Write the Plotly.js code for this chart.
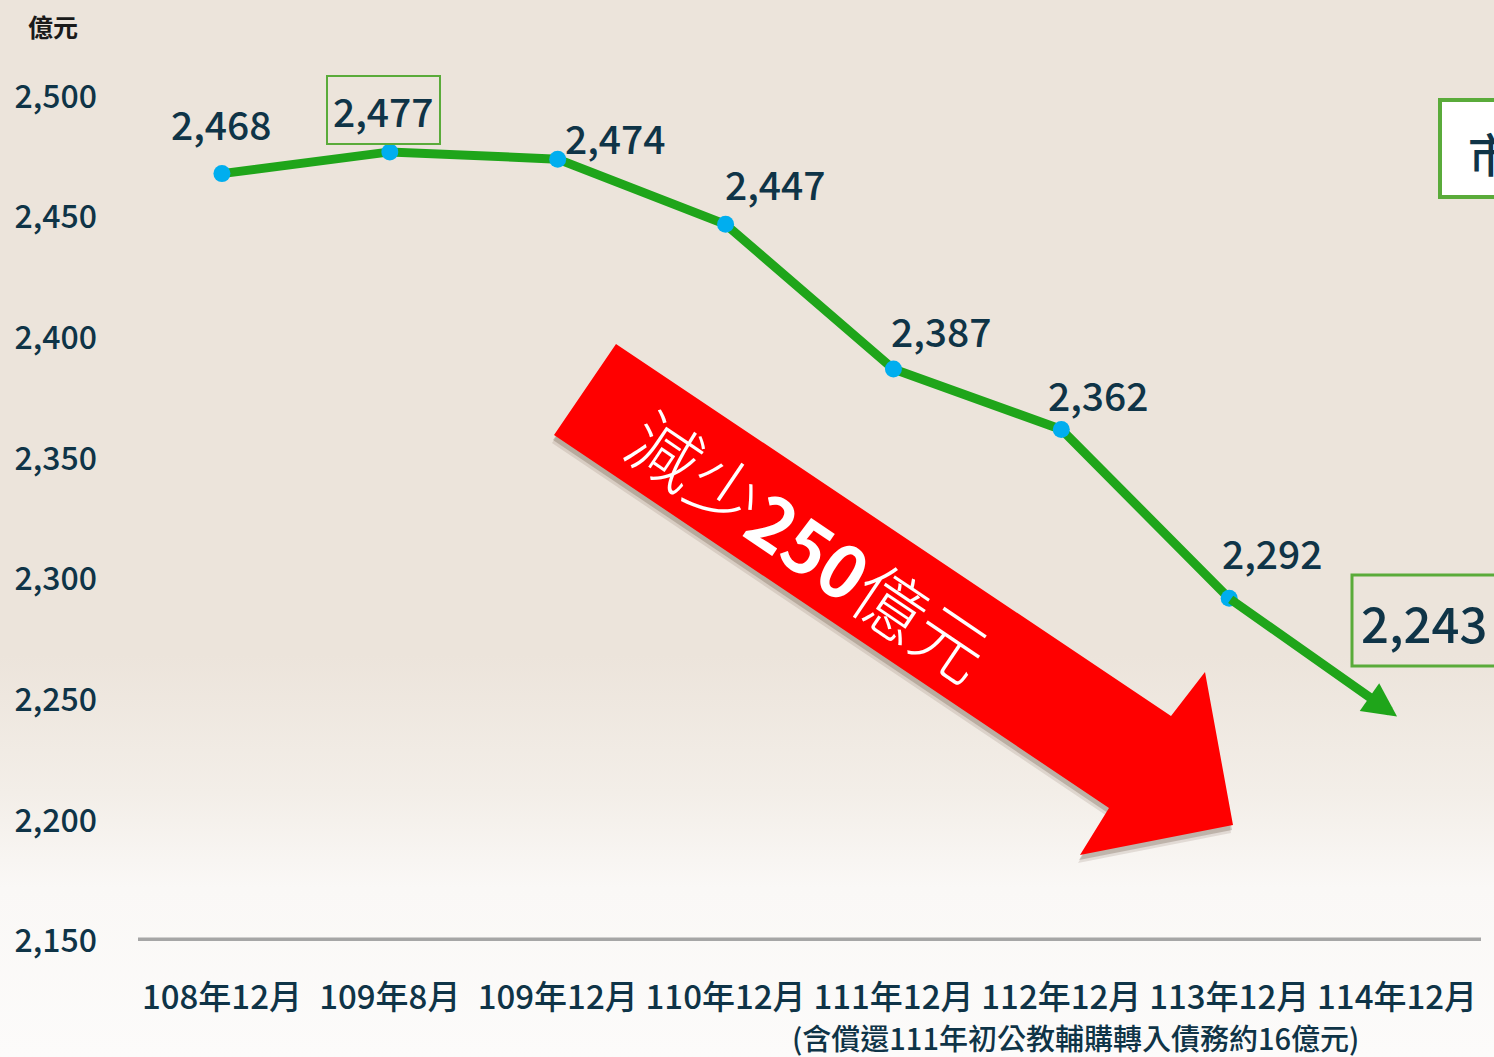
<!DOCTYPE html>
<html>
<head>
<meta charset="utf-8">
<script src="https://cdn.plot.ly/plotly-3.0.1.min.js"></script>
<style>
  html, body { margin: 0; padding: 0; }
  body {
    width: 1494px; height: 1057px; overflow: hidden;
    background: linear-gradient(to bottom, #ece4db 0%, #ece4db 62%, #f3eee8 75%, #faf8f6 84%, #fcfbfa 100%);
  }
  #chart { width: 1494px; height: 1057px; }
</style>
</head>
<body>
<div id="chart"></div>
<script>
// ---- data ----
const categories = ['108年12月', '109年8月', '109年12月', '110年12月', '111年12月', '112年12月', '113年12月', '114年12月'];
const values = [2468, 2477, 2474, 2447, 2387, 2362, 2292, 2243];
const valueLabels = ['2,468', '2,477', '2,474', '2,447', '2,387', '2,362', '2,292', '2,243'];
const yTicks = [2150, 2200, 2250, 2300, 2350, 2400, 2450, 2500];
const unitLabel = '億元';
const noteText = '(含償還111年初公教輔購轉入債務約16億元)';
const arrowText = '減少<b>250</b>億元';

// ---- layout helpers (pixel -> paper) ----
const W = 1494, H = 1057;
const M = { l: 138, r: 13, t: 24, b: 116 };
const PW = W - M.l - M.r, PH = H - M.t - M.b;
const px = x => (x - M.l) / PW;
const py = y => (H - M.b - y) / PH;

const navy = '#0f3447';
const green = '#1fa51a';
const boxGreen = '#5aab3a';
const font = '"Noto Sans CJK TC", "Noto Sans", sans-serif';

const idx = categories.map((_, i) => i);
const nLine = values.length - 1;

const line = {
  x: idx.slice(0, nLine),
  y: values.slice(0, nLine),
  type: 'scatter',
  mode: 'lines+markers',
  line: { color: green, width: 9 },
  marker: { color: '#00aeef', size: 17 },
  hoverinfo: 'skip'
};

// label offsets (styling)
const offs = [[0, 51], [-6, 42], [58, 22], [50, 41], [48, 39], [37, 35], [43, 46], [27, 95]];
const annotations = values.map((v, i) => ({
  x: i, y: v, xref: 'x', yref: 'y',
  text: valueLabels[i], showarrow: false,
  xanchor: 'center', yanchor: 'middle',
  xshift: offs[i][0], yshift: offs[i][1],
  font: { family: font, size: i === nLine ? 49 : 39, color: navy, weight: 500 },
  bordercolor: i === 1 ? boxGreen : 'rgba(0,0,0,0)',
  borderwidth: i === 1 ? 2 : 0,
  borderpad: 5
}));

// arrow for last segment
annotations.push({
  x: nLine, y: values[nLine], ax: nLine - 1, ay: values[nLine - 1],
  xref: 'x', yref: 'y', axref: 'x', ayref: 'y',
  text: '', showarrow: true, arrowhead: 2, arrowsize: 0.75, arrowwidth: 9,
  arrowcolor: green, standoff: 0, startstandoff: 0
});

annotations.push({
  xref: 'paper', yref: 'paper', x: px(53), y: py(26), xanchor: 'center', yanchor: 'middle',
  text: '<b>' + unitLabel + '</b>', showarrow: false,
  font: { family: font, size: 25, color: '#1a1a1a' }
});
annotations.push({
  xref: 'x', yref: 'paper', x: 5, y: py(1037), xshift: 14, xanchor: 'center', yanchor: 'middle',
  text: noteText, showarrow: false,
  font: { family: font, size: 29, color: navy, weight: 500 }
});
annotations.push({
  xref: 'paper', yref: 'paper', x: px(810), y: py(543), xanchor: 'center', yanchor: 'middle',
  text: arrowText, showarrow: false, textangle: 34,
  font: { family: font, size: 72, color: '#ffffff', weight: 300 }
});
annotations.push({
  xref: 'paper', yref: 'paper', x: px(1466), y: py(152), xanchor: 'left', yanchor: 'middle',
  text: '市庫', showarrow: false,
  font: { family: font, size: 46, color: navy, weight: 500 }
});

function pathFrom(pts, dx, dy) {
  return 'M' + pts.map(p => px(p[0] + dx) + ',' + py(p[1] + dy)).join(' L') + ' Z';
}
const redArrow = [[616, 344], [1171, 716], [1205, 672], [1233, 825], [1080, 855], [1109, 808], [554, 435]];

const shapes = [
  { type: 'path', xref: 'paper', yref: 'paper', path: pathFrom(redArrow, -2, 8), fillcolor: 'rgba(70,45,25,0.12)', line: { width: 0 }, layer: 'below' },
  { type: 'path', xref: 'paper', yref: 'paper', path: pathFrom(redArrow, -1, 5), fillcolor: 'rgba(70,45,25,0.22)', line: { width: 0 }, layer: 'below' },
  { type: 'path', xref: 'paper', yref: 'paper', path: pathFrom(redArrow, 0, 0), fillcolor: '#ff0000', line: { width: 0 }, layer: 'below' },
  { type: 'line', xref: 'paper', yref: 'y', x0: 0, x1: 1, y0: yTicks[0], y1: yTicks[0], line: { color: '#a6a6a6', width: 7 } },
  { type: 'rect', xref: 'paper', yref: 'paper', x0: px(1352), x1: px(1540), y0: py(575), y1: py(666), line: { color: boxGreen, width: 3 } },
  { type: 'rect', xref: 'paper', yref: 'paper', x0: px(1440), x1: px(1560), y0: py(100), y1: py(197), fillcolor: '#ffffff', line: { color: boxGreen, width: 4 }, layer: 'below' }
];

const layout = {
  width: W, height: H,
  margin: M,
  paper_bgcolor: 'rgba(0,0,0,0)',
  plot_bgcolor: 'rgba(0,0,0,0)',
  showlegend: false,
  xaxis: {
    range: [-0.5, categories.length - 0.5],
    tickvals: idx, ticktext: categories,
    showgrid: false, zeroline: false, showline: false, ticks: '',
    ticklabelstandoff: 34,
    tickfont: { family: font, size: 33, color: navy, weight: 500 }
  },
  yaxis: {
    range: [2150, 2530],
    tickvals: yTicks, ticktext: yTicks.map(v => v.toLocaleString('en-US')),
    showgrid: false, zeroline: false, showline: false, ticks: '',
    ticklabelstandoff: 40,
    tickfont: { family: font, size: 32, color: navy, weight: 500 }
  },
  annotations: annotations,
  shapes: shapes
};

Plotly.newPlot('chart', [line], layout, { displayModeBar: false, staticPlot: true });
</script>
</body>
</html>
